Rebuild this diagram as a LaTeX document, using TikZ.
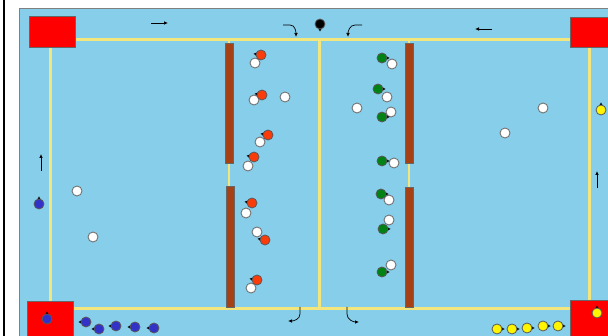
\documentclass[tikz,border=0pt]{standalone}
\usetikzlibrary{calc,arrows.meta}
\definecolor{pitch}{RGB}{135,206,235}
\definecolor{lineyellow}{RGB}{242,230,125}
\definecolor{wallbrown}{RGB}{165,65,20}
\definecolor{redteam}{RGB}{250,60,10}
\definecolor{greenteam}{RGB}{0,130,20}
\definecolor{blueteam}{RGB}{50,50,200}
\definecolor{yellowteam}{RGB}{255,245,0}
\tikzset{
  fieldline/.style={lineyellow,line width=3pt},
  wall/.style={fill=wallbrown,draw=black!60,line width=0.8pt},
  goalbox/.style={fill=red,draw=black!60,line width=0.8pt},
  run/.style={->,black,line width=0.7pt},
}
% one player: position, colour, facing angle (y runs downwards)
\newcommand{\player}[3]{%
  \fill[black] ($(#1)+(#3:7.5)$) -- ($(#1)+(#3+40:4)$) -- ($(#1)+(#3-40:4)$) -- cycle;
  \filldraw[fill=#2,draw=black!65,line width=0.8pt] (#1) circle (5pt);}
\newcommand{\ballat}[1]{%
  \filldraw[fill=white,draw=black!55,line width=0.9pt] (#1) circle (5pt);}

\begin{document}
\begin{tikzpicture}[x=1pt,y=-1pt,>={Latex[length=4pt,width=3.5pt]}]
  \useasboundingbox (0,0) rectangle (608,336);
  \clip (0,0) rectangle (608,336);
  \fill[white] (0,0) rectangle (608,336);
  \draw[black,line width=1.8pt] (4,0) -- (4,336);
  % the pitch
  \filldraw[fill=pitch,draw=black!50,line width=1pt] (19,9) rectangle (640,360);
  % field lines
  \coordinate (TL) at (50,40);  \coordinate (TR) at (589,40);
  \coordinate (BL) at (50,309); \coordinate (BR) at (589,309);
  \draw[fieldline] (TL) -- (TR) -- (BR) -- (BL) -- cycle;
  \draw[fieldline] (319,40) -- (319,309);
  \draw[fieldline,line width=2pt] (229,40) -- (229,309);
  \draw[fieldline,line width=2pt] (409,40) -- (409,309);
  % walls
  \draw[wall] (225,43) rectangle (233,163);
  \draw[wall] (226,186) rectangle (234,307);
  \draw[wall] (405,43) rectangle (413,163);
  \draw[wall] (405,187) rectangle (413,307);
  % corner boxes
  \draw[goalbox] (29,16) rectangle (75,47);
  \draw[goalbox] (570,17) rectangle (620,47);
  \draw[goalbox] (27,301) rectangle (73,345);
  \draw[goalbox] (570,300) rectangle (620,345);
  % running directions
  \draw[run] (151,23) -- (168,23);
  \draw[run] (492,29) -- (475,29);
  \draw[run] (41,171) -- (41,154);
  \draw[run] (597,188) -- (597,171);
  \draw[run] (283,25) -- (290,25) to[out=0,in=90] (296,37);
  \draw[run] (362,25) -- (355,25) to[out=180,in=90] (348,37);
  \draw[run] (300,307) -- (300,314) to[out=-90,in=0] (288,321);
  \draw[run] (347,307) -- (347,314) to[out=-90,in=180] (359,322);
  % referee
  \player{320,24}{black}{90}
  % loose balls
  \foreach \p in {{77,191},{93,237},{543,108},{505,133},{285,97},{357,108},{389,220}}
    \ballat{\p};
  % red pairs
  \foreach \r/\w in {{261,55}/{255,63},{262,95}/{254,100},{268,135}/{260,142},
                     {254,157}/{248,166},{252,203}/{246,213},{265,240}/{257,232},
                     {257,280}/{251,288}}{
    \ballat{\w}
    \player{\r}{redteam}{190}}
  % green pairs
  \foreach \g/\w in {{382,58}/{392,64},{378,89}/{387,97},{382,117}/{391,112},
                     {382,161}/{394,163},{381,194}/{389,200},{382,272}/{391,265}}{
    \ballat{\w}
    \player{\g}{greenteam}{0}}
  \player{383,229}{greenteam}{0}
  % waiting players
  \foreach \p in {{86,322},{99,329},{116,326},{135,327},{154,328}}
    \player{\p}{blueteam}{180};
  \foreach \p in {{497,329},{512,329},{527,328},{543,326},{558,326}}
    \player{\p}{yellowteam}{0};
  \player{39,204}{blueteam}{-90}
  \player{47,319}{blueteam}{-90}
  \player{601,110}{yellowteam}{-90}
  \player{597,313}{yellowteam}{-90}
\end{tikzpicture}
\end{document}
